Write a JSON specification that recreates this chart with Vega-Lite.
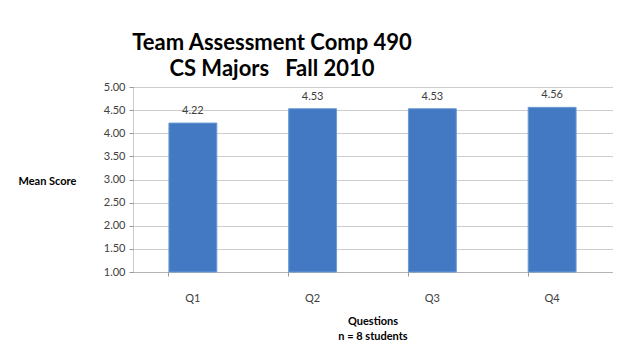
{
  "$schema": "https://vega.github.io/schema/vega-lite/v6.json",
  "autosize": {"type": "none"},
  "width": 479,
  "height": 185,
  "padding": {"left": 133, "top": 87, "right": 8, "bottom": 89},
  "background": "white",
  "title": {
    "text": ["Team Assessment Comp 490", "CS Majors\u00a0\u00a0\u00a0Fall 2010"],
    "anchor": "start",
    "align": "center",
    "dx": 254,
    "offset": 0,
    "font": "Lato",
    "fontSize": 22,
    "fontWeight": "bold",
    "lineHeight": 26,
    "color": "black"
  },
  "data": {
    "values": [
      {"q": "Q1", "score": 4.22},
      {"q": "Q2", "score": 4.53},
      {"q": "Q3", "score": 4.53},
      {"q": "Q4", "score": 4.56}
    ]
  },
  "encoding": {
    "x": {
      "field": "q", "type": "nominal",
      "scale": {"paddingInner": 0.6, "paddingOuter": 0.3},
      "axis": {
        "labelAngle": 0,
        "labelPadding": 16,
        "labelFont": "Lato",
        "labelFontSize": 11,
        "labelColor": "#404040",
        "bandPosition": 0,
        "tickSize": 4,
        "tickColor": "#999999",
        "domainColor": "#999999",
        "domainDash": [1, 1],
        "title": ["Questions", "n = 8 students"],
        "titleFont": "Lato",
        "titleFontSize": 11,
        "titleFontWeight": "bold",
        "titleColor": "black",
        "titlePadding": 12,
        "titleLineHeight": 15
      }
    },
    "y": {
      "field": "score", "type": "quantitative",
      "scale": {"domain": [1, 5]},
      "axis": {
        "values": [1, 1.5, 2, 2.5, 3, 3.5, 4, 4.5, 5],
        "format": ".2f",
        "labelFont": "Lato",
        "labelFontSize": 11,
        "labelColor": "#404040",
        "labelPadding": 4,
        "tickSize": 4,
        "tickColor": "#999999",
        "domainColor": "#999999",
        "domainDash": [1, 1],
        "gridColor": "#9a9a9a",
        "gridDash": [1, 1],
        "title": "Mean Score",
        "titleAngle": 0,
        "titleAlign": "left",
        "titleBaseline": "middle",
        "titleX": -115,
        "titleY": 94,
        "titleFont": "Lato",
        "titleFontSize": 11,
        "titleFontWeight": "bold",
        "titleColor": "black"
      }
    }
  },
  "layer": [
    {
      "mark": {"type": "bar", "color": "#4279c2", "stroke": "#6b9bd6", "strokeWidth": 1},
      "encoding": {"y2": {"datum": 1}}
    },
    {
      "mark": {"type": "text", "dy": -12, "font": "Lato", "fontSize": 11, "color": "#404040"},
      "encoding": {"text": {"field": "score", "type": "quantitative", "format": ".2f"}}
    }
  ],
  "config": {"view": {"stroke": null}}
}
